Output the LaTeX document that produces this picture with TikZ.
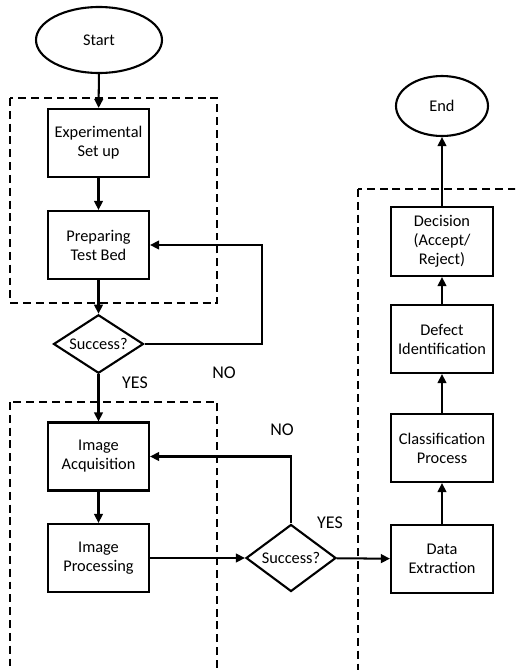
\documentclass[tikz,border=0pt]{standalone}
\usepackage{fontspec}
\setmainfont{Carlito}
\usetikzlibrary{arrows.meta,shapes.geometric}

\begin{document}
\begin{tikzpicture}[
    x=0.02cm, y=-0.02cm,
    font=\fontsize{9.3}{10.8}\selectfont,
    stepbox/.style={rectangle, draw, line width=1.2pt, align=center, minimum width=2.02cm, minimum height=1.36cm, inner sep=1pt},
    term/.style={ellipse, draw, line width=1.2pt, inner sep=0pt},
    check/.style={diamond, draw, line width=1.2pt, inner sep=0pt, shape aspect=1.5, minimum width=1.8cm, minimum height=1.2cm},
    arr/.style={line width=1.15pt, -{Triangle[length=5.2pt, width=5pt]}},
    group/.style={line width=1.2pt, dash pattern=on 4.5pt off 2.8pt},
    answer/.style={font=\fontsize{10.2}{12}\selectfont}
]
\useasboundingbox (0,0) rectangle (515,670);
\clip (0,0) rectangle (515,670);

% dashed groups
\draw[group] (10,98) rectangle (217,303);
\draw[group] (10,402) rectangle (217,720);
\draw[group] (358,189) rectangle (560,720);

% left column
\node[term, minimum width=2.52cm, minimum height=1.32cm] (start) at (99,40) {Start};
\node[stepbox] (setup) at (98.5,143) {Experimental\\Set up};
\node[stepbox] (prep) at (98.5,245) {Preparing\\Test Bed};
\node[check, minimum height=1.17cm] (chk1) at (98.5,344) {Success?};
\node[stepbox] (acq) at (98.5,456.5) {Image\\Acquisition};
\node[stepbox] (proc) at (98.5,558) {Image\\Processing};

% middle
\node[check, minimum height=1.34cm] (chk2) at (291,558) {Success?};

% right column
\node[stepbox, minimum width=2.04cm] (extr) at (442,559) {Data\\Extraction};
\node[stepbox, minimum width=2.04cm] (cls) at (442,448) {Classification\\Process};
\node[stepbox, minimum width=2.04cm] (defect) at (442,339) {Defect\\Identification};
\node[stepbox, minimum width=2.04cm, minimum height=1.38cm] (dec) at (442,241.5) {Decision\\(Accept/\\Reject)};
\node[term, minimum width=1.84cm, minimum height=1.2cm] (end) at (442,106) {End};

\coordinate (loop1) at (262,300);

% flow
\draw[arr] (start) -- (setup);
\draw[arr] (setup) -- (prep);
\draw[arr] (prep) -- (chk1);
\draw[arr] (chk1.east) -- (chk1.east -| loop1) |- (prep.east);
\draw[arr] (chk1) -- (acq);
\draw[arr] (acq) -- (proc);
\draw[arr] (proc) -- (chk2);
\draw[arr] (chk2.north) |- (acq.east);
\draw[arr] (chk2) -- (extr);
\draw[arr] (extr) -- (cls);
\draw[arr] (cls) -- (defect);
\draw[arr] (defect) -- (dec);
\draw[arr] (dec) -- (end);

% answers
\node[answer] (yes1) at (135,383) {YES};
\node[answer] (no1) at (224,373) {NO};
\node[answer] (no2) at (282,430) {NO};
\node[answer] (yes2) at (330,523) {YES};

\end{tikzpicture}
\end{document}
